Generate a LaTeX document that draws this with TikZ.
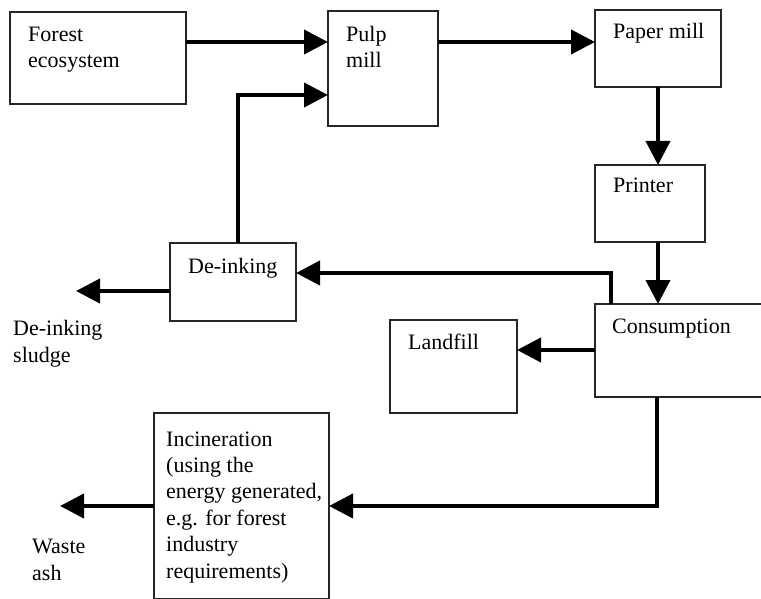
\documentclass[tikz,border=0pt]{standalone}
\usepackage{fontspec}
\setmainfont{Liberation Serif}
\usetikzlibrary{arrows.meta}
\begin{document}
\begin{tikzpicture}[x=1pt,y=-1pt,
  box/.style={draw=black!85, line width=1.4pt, inner sep=0pt, outer sep=0pt,
    anchor=north west},
  % multi-line labels are placed by the baseline of their last line
  txt/.style={anchor=base west, inner sep=0pt, align=left,
    font=\fontsize{22}{26.4}\selectfont},
  flow/.style={line width=4pt, -{Triangle[length=24pt,width=24pt]}}]
\useasboundingbox (0,0) rectangle (761,599);

% process boxes
\node[box, minimum width=176pt, minimum height=92pt] (forest) at (10,12) {};
\node[box, minimum width=110pt, minimum height=115pt] (pulp) at (328,11) {};
\node[box, minimum width=126pt, minimum height=77pt] (paper) at (595,10) {};
\node[box, minimum width=110pt, minimum height=77pt] (printer) at (595,165) {};
\node[box, minimum width=126pt, minimum height=78pt] (deink) at (170,243) {};
\node[box, minimum width=190pt, minimum height=93pt] (cons) at (595,304) {};
\node[box, minimum width=127pt, minimum height=93pt] (landfill) at (390,320) {};
\node[box, minimum width=175pt, minimum height=186pt] (incin) at (154,413) {};

% box labels
\node[txt] (forestT) at (28,68) {Forest\\ecosystem};
\node[txt] (pulpT) at (346,68) {Pulp\\mill};
\node[txt] (paperT) at (613,39) {Paper mill};
\node[txt] (printerT) at (613,193) {Printer};
\node[txt] (deinkT) at (188,273) {De-inking};
\node[txt] (consT) at (612,333) {Consumption};
\node[txt] (landfillT) at (408,349) {Landfill};
\node[txt] (incinT) at (166,578) {Incineration\\(using the\\energy generated,\\e.g. for forest\\industry\\requirements)};

% outputs leaving the system
\node[txt] (sludge) at (13,362) {De-inking\\sludge};
\node[txt] (ash) at (32,580) {Waste\\ash};
\coordinate (sludgeTip) at (76,291);
\coordinate (ashTip) at (60,506);

% main flows
\draw[flow] (forest.east |- 0,42) -- (pulp.west |- 0,42);
\draw[flow] (pulp.east |- 0,42) -- (paper.west |- 0,42);
\draw[flow] (paper.south -| 658,0) -- (printer.north -| 658,0);
\draw[flow] (printer.south -| 658,0) -- (cons.north -| 658,0);

% recycling loop
\draw[flow] (cons.north -| 611,0) |- (deink.east |- 0,273);
\draw[flow] (deink.north -| 238,0) |- (pulp.west |- 0,95);
\draw[flow] (deink.west |- 0,291) -- (sludgeTip);

% disposal
\draw[flow] (cons.west |- 0,350) -- (landfill.east |- 0,350);
\draw[flow] (cons.south -| 657,0) |- (incin.east |- 0,506);
\draw[flow] (incin.west |- 0,506) -- (ashTip);
\end{tikzpicture}
\end{document}
